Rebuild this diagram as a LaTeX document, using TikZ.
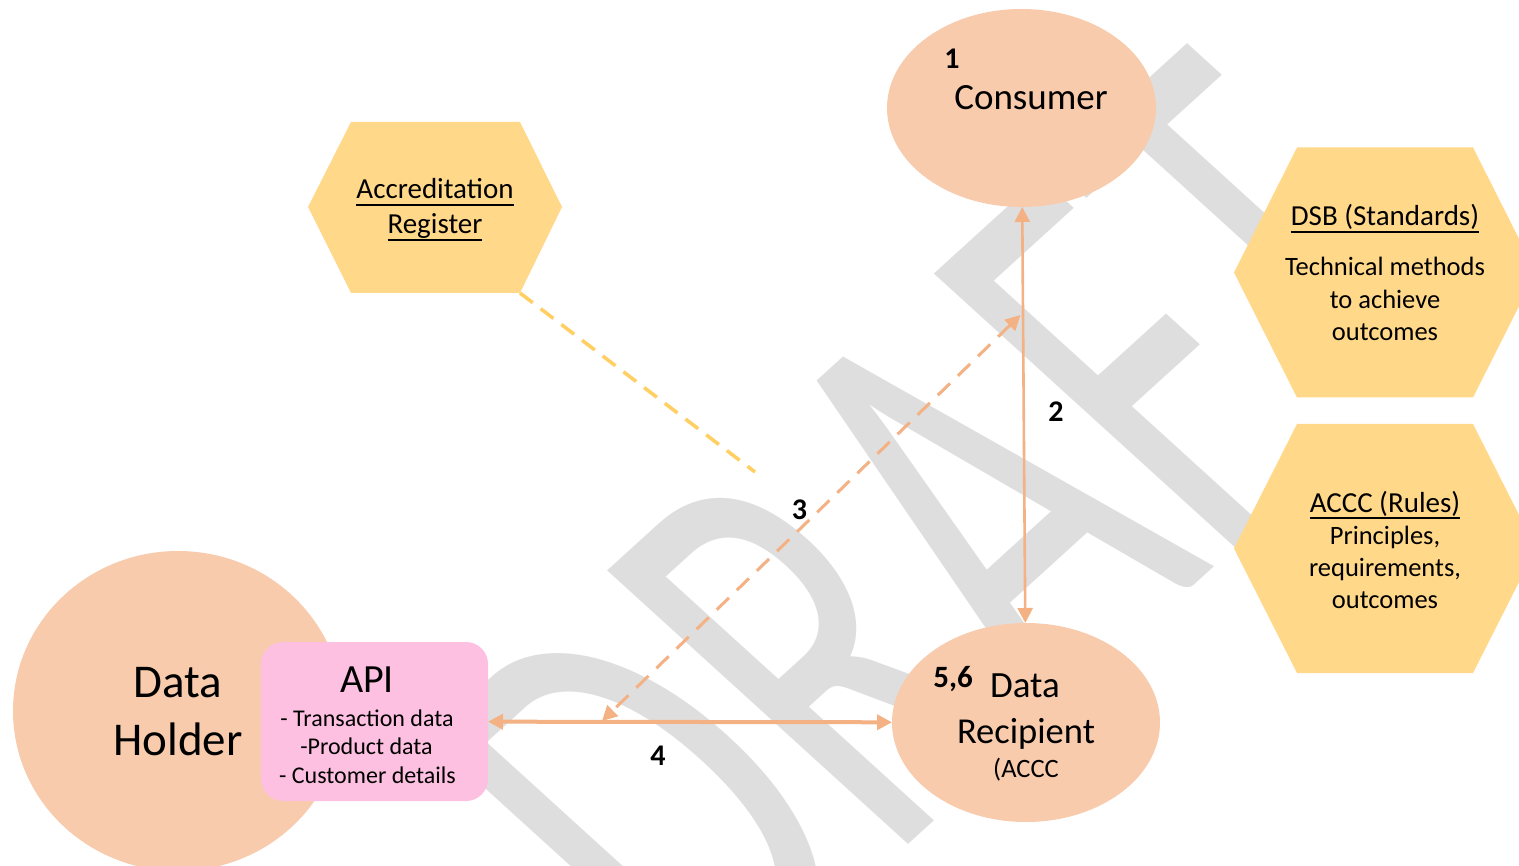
\documentclass[tikz,border=0pt]{standalone}
\usepackage{fontspec}
\setmainfont{Carlito}
\usetikzlibrary{arrows.meta,shapes.geometric}
\definecolor{peach}{RGB}{248,203,173}
\definecolor{hexfill}{RGB}{255,216,138}
\definecolor{apipink}{RGB}{253,192,225}
\definecolor{arrowor}{RGB}{244,177,131}
\definecolor{ydashc}{RGB}{255,207,98}
\definecolor{wmgray}{RGB}{222,222,222}
\newcommand\fsz[1]{\fontsize{#1pt}{#1pt}\selectfont}
\newcommand\uln[1]{\leavevmode\setbox0\hbox{#1}\rlap{\rule[-0.255em]{\wd0}{0.075em}}\box0}
\tikzset{
  wm/.style={anchor=base west, inner sep=0pt, outer sep=0pt, text=wmgray, font=\fsz{603}, xscale=1.1, rotate=45, xscale=0.623},
  blob/.style={ellipse, fill=peach, inner sep=0pt, outer sep=0pt},
  apibox/.style={rectangle, rounded corners=22pt, fill=apipink, inner sep=0pt, outer sep=0pt, minimum width=227pt, minimum height=159pt},
  hexshape/.style={fill=hexfill},
  txt/.style={inner sep=0pt, anchor=base},
  num/.style={txt, font=\bfseries\fsz{30}},
  conn/.style={draw=arrowor, line width=2.6pt, {Triangle[length=15pt,width=15pt]}-{Triangle[length=15pt,width=15pt]}},
  dashconn/.style={conn, line width=3pt, dash pattern=on 17pt off 11pt},
  ydash/.style={draw=ydashc, line width=3.5pt, dash pattern=on 16pt off 10pt}
}
\begin{document}
\begin{tikzpicture}[x=1pt,y=1pt]
\useasboundingbox (0,0) rectangle (1519,-866);
\clip (0,0) rectangle (1519,-866);
\fill[white] (0,0) rectangle (1519,-866);
% watermark
\node[wm] (wm) at (708,-1027) {DRAFT};
% main shapes
\node[blob, minimum width=269pt, minimum height=198pt] (consumer) at (1021.5,-108) {};
\node[blob, minimum width=268pt, minimum height=199pt] (recipient) at (1026,-722.5) {};
\node[blob, minimum width=330pt, minimum height=320pt] (holder) at (178,-711) {};
\node[apibox] (api) at (374.5,-721.5) {};
% hexagons
\fill[hexshape] (308,-207) -- (351,-122) -- (520,-122) -- (562,-207) -- (520,-293) -- (351,-293) -- cycle;
\coordinate (accrBR) at (520,-293);
\fill[hexshape] (1234,-272.5) -- (1297,-147.5) -- (1473,-147.5) -- (1536,-272.5) -- (1473,-397.5) -- (1297,-397.5) -- cycle;
\fill[hexshape] (1234,-548.5) -- (1297,-424) -- (1473,-424) -- (1536,-548.5) -- (1473,-673) -- (1297,-673) -- cycle;
% connectors
\coordinate (accrEnd) at (755,-472);
\draw[ydash] (accrBR) -- (accrEnd);
\draw[conn] (consumer) -- (recipient);
\coordinate (d3a) at (1020.5,-315);
\coordinate (d3b) at (602,-721);
\draw[dashconn] (d3a) -- (d3b);
\draw[conn, line width=4pt] (api) -- (recipient);
% texts
\node[num] (n1) at (952,-69) {1};
\node[txt, font=\fsz{37}] (tconsumer) at (1031,-110) {Consumer};
\node[num] (n2) at (1056,-422) {2};
\node[num] (n3) at (799.5,-519) {3};
\node[num] (n4) at (658,-765) {4};
\node[txt, font=\bfseries\fsz{31}] (n56) at (953,-687) {5,6};
\node[txt, font=\fsz{37}] (trec1) at (1025,-697) {Data};
\node[txt, font=\fsz{36.5}] (trec2) at (1026,-743) {Recipient};
\node[txt, font=\fsz{26.5}] (trec3) at (1026,-777) {(ACCC};
\node[txt, font=\fsz{47}] (thold1) at (178,-697) {Data};
\node[txt, font=\fsz{47}] (thold2) at (178,-755) {Holder};
\node[txt, font=\fsz{40}] (tapi) at (367,-692) {API};
\node[txt, font=\fsz{24}] (tapi1) at (367,-726) {- Transaction data};
\node[txt, font=\fsz{24}] (tapi2) at (366.5,-754) {-Product data};
\node[txt, font=\fsz{24}] (tapi3) at (367.5,-783) {- Customer details};
\node[txt, font=\fsz{29}] (taccr1) at (435,-199) {\uln{Accreditation}};
\node[txt, font=\fsz{29}] (taccr2) at (435,-234) {\uln{Register}};
\node[txt, font=\fsz{29}] (tdsb0) at (1385,-226) {\uln{DSB (Standards)}};
\node[txt, font=\fsz{26.5}] (tdsb1) at (1385,-276) {Technical methods};
\node[txt, font=\fsz{26.5}] (tdsb2) at (1385,-309) {to achieve};
\node[txt, font=\fsz{26.5}] (tdsb3) at (1385,-341) {outcomes};
\node[txt, font=\fsz{29}] (taccc0) at (1385,-512) {\uln{ACCC (Rules)}};
\node[txt, font=\fsz{26.5}] (taccc1) at (1385,-544) {Principles,};
\node[txt, font=\fsz{26.5}] (taccc2) at (1385,-576) {requirements,};
\node[txt, font=\fsz{26.5}] (taccc3) at (1385,-608) {outcomes};
\end{tikzpicture}
\end{document}
